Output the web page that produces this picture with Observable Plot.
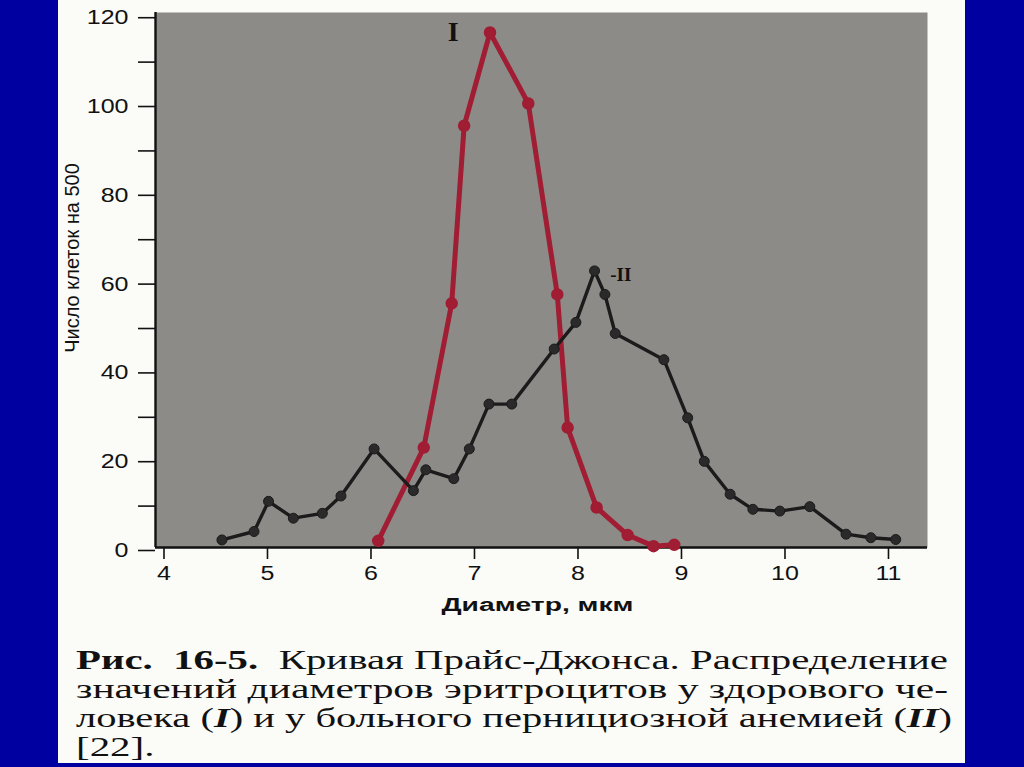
<!DOCTYPE html>
<html>
<head>
<meta charset="utf-8">
<script src="https://cdn.jsdelivr.net/npm/d3@7"></script>
<script src="https://cdn.jsdelivr.net/npm/@observablehq/plot@0.6"></script>
<style>
  html, body { margin: 0; padding: 0; }
  body { width: 1024px; height: 767px; background: #0000a0; position: relative; overflow: hidden; }
  #page { position: absolute; left: 58px; top: 0; width: 907px; height: 763px; background: #fbfbf8; overflow: hidden; }
  #chart { position: absolute; left: 0; top: 0; }
  .cap { position: absolute; left: 18px; font-family: "Liberation Serif", "Times New Roman", serif; font-size: 28px; line-height: 27px; height: 27px; color: #111; white-space: nowrap; }
  .cap span { display: inline-block; transform-origin: 0 0; }
</style>
</head>
<body>
<div id="page">
  <div id="chart"></div>
  <div class="cap" data-base="669" data-target="872"><span><b>Рис.&nbsp; 16-5.</b>&nbsp; Кривая Прайс-Джонса. Распределение</span></div>
  <div class="cap" data-base="698" data-target="872"><span>значений диаметров эритроцитов у здорового че-</span></div>
  <div class="cap" data-base="727" data-target="876"><span>ловека (<b><i>I</i></b>) и у больного пернициозной анемией (<b><i>II</i></b>)</span></div>
  <div class="cap" data-base="756" data-target="0"><span>[22].</span></div>
</div>
<script>
// Series I: healthy person (red)
const diameterI = [6.07, 6.51, 6.78, 6.90, 7.15, 7.52, 7.80, 7.90, 8.18, 8.48, 8.73, 8.93];
const countI    = [1.5, 22.5, 55, 95, 116, 100, 57, 27, 9, 2.8, 0.3, 0.6];

// Series II: pernicious anemia (black)
const diameterII = [4.56, 4.87, 5.01, 5.25, 5.53, 5.71, 6.03, 6.41, 6.53, 6.80, 6.95, 7.14, 7.36, 7.77,
                    7.98, 8.16, 8.26, 8.36, 8.83, 9.06, 9.22, 9.47, 9.69, 9.95, 10.24, 10.59, 10.83, 11.07];
const countII    = [1.7, 3.6, 10.4, 6.6, 7.7, 11.6, 22.2, 12.8, 17.5, 15.5, 22.2, 32.3, 32.3, 44.7,
                    50.7, 62.3, 57, 48.2, 42.3, 29.2, 19.4, 12.0, 8.6, 8.2, 9.2, 3.0, 2.2, 1.8];

const xTicks = [4, 5, 6, 7, 8, 9, 10, 11];
const yTicks = [0, 10, 20, 30, 40, 50, 60, 70, 80, 90, 100, 110, 120];
const xDomain = [3.918, 11.377];
const yDomain = [0, 120.5];

const curveLabels = ["I", "-II"];
const curveLabelX = [6.80, 8.37];
const curveLabelY = [116, 61.5];
const curveLabelSize = [28, 19];

const xLabel = "Диаметр, мкм";
const yLabel = "Число клеток на 500";

const dataI = diameterI.map((d, i) => ({d, n: countI[i]}));
const dataII = diameterII.map((d, i) => ({d, n: countII[i]}));
const labelData = curveLabels.map((t, i) => ({t, x: curveLabelX[i], y: curveLabelY[i], s: curveLabelSize[i]}));

const RED = "#a01d33";
const BLACK = "#1b1b1b";

const chart = Plot.plot({
  width: 907,
  height: 640,
  marginLeft: 97,
  marginRight: 38,
  marginTop: 12,
  marginBottom: 93,
  style: { fontFamily: "'Liberation Sans', Arial, sans-serif", color: "#111", background: "transparent" },
  x: { domain: xDomain, label: null },
  y: { domain: yDomain, label: null },
  marks: [
    Plot.frame({ fill: "#8d8b88", stroke: null }),
    Plot.axisY({ ticks: yTicks, tickSize: 17, tickPadding: 10, tickFormat: d => d % 20 === 0 ? d : "", fontSize: 20, dy: 3, stroke: "#111", strokeWidth: 1.6, label: null }),
    Plot.axisX({ ticks: xTicks, tickSize: 12, tickPadding: 6, fontSize: 20, stroke: "#111", strokeWidth: 1.6, label: null }),
    Plot.ruleX([xDomain[0]], { stroke: "#111", strokeWidth: 2.4 }),
    Plot.ruleY([0], { stroke: "#111", strokeWidth: 2.4 }),
    Plot.line(dataI, { x: "d", y: "n", stroke: RED, strokeWidth: 5, strokeLinejoin: "round" }),
    Plot.dot(dataI, { x: "d", y: "n", r: 5.5, fill: RED, stroke: RED }),
    Plot.line(dataII, { x: "d", y: "n", stroke: BLACK, strokeWidth: 3.4, strokeLinejoin: "round" }),
    Plot.dot(dataII, { x: "d", y: "n", r: 5, fill: "#2a2a2a", stroke: BLACK, strokeWidth: 1 }),
    Plot.text(labelData, { x: "x", y: "y", text: "t", textAnchor: "start", dx: -6, fontSize: d => d.s, fontFamily: "'Liberation Serif', serif", fill: "#111", fontWeight: "bold" }),
    Plot.text([xLabel], { frameAnchor: "bottom", lineAnchor: "middle", dy: 58, dx: -4, fontSize: 18, fontWeight: "bold", fill: "#111", className: "xlab" }),
    Plot.text([yLabel], { frameAnchor: "left", textAnchor: "middle", lineAnchor: "middle", dx: -83, dy: -22, rotate: -90, fontSize: 20, fill: "#111" })
  ]
});
document.getElementById("chart").appendChild(chart);

// Horizontal stretch of the scanned page's lettering
chart.querySelectorAll("g[aria-label='y-axis tick label'] text, g[aria-label='x-axis tick label'] text").forEach(t => {
  const w = t.getComputedTextLength();
  if (w > 0) { t.setAttribute("textLength", w * 1.25); t.setAttribute("lengthAdjust", "spacingAndGlyphs"); }
});
chart.querySelectorAll(".xlab text").forEach(t => {
  t.setAttribute("textLength", 192); t.setAttribute("lengthAdjust", "spacingAndGlyphs");
});

// Caption lines
const FS = 28, LH = 27;
const baselineOffset = (LH - 1.107 * FS) / 2 + 0.891 * FS;
const caps = [...document.querySelectorAll(".cap")];
caps.forEach(el => {
  el.style.top = (+el.dataset.base - baselineOffset) + "px";
});
const scales = [];
caps.forEach(el => {
  const sp = el.querySelector("span");
  const w = sp.getBoundingClientRect().width;
  const target = +el.dataset.target;
  if (target > 0) { const s = target / w; scales.push(s); sp.style.transform = `scaleX(${s})`; }
});
const avg = d3.mean(scales);
caps.forEach(el => {
  if (+el.dataset.target === 0) el.querySelector("span").style.transform = `scaleX(${avg})`;
});
</script>
</body>
</html>
